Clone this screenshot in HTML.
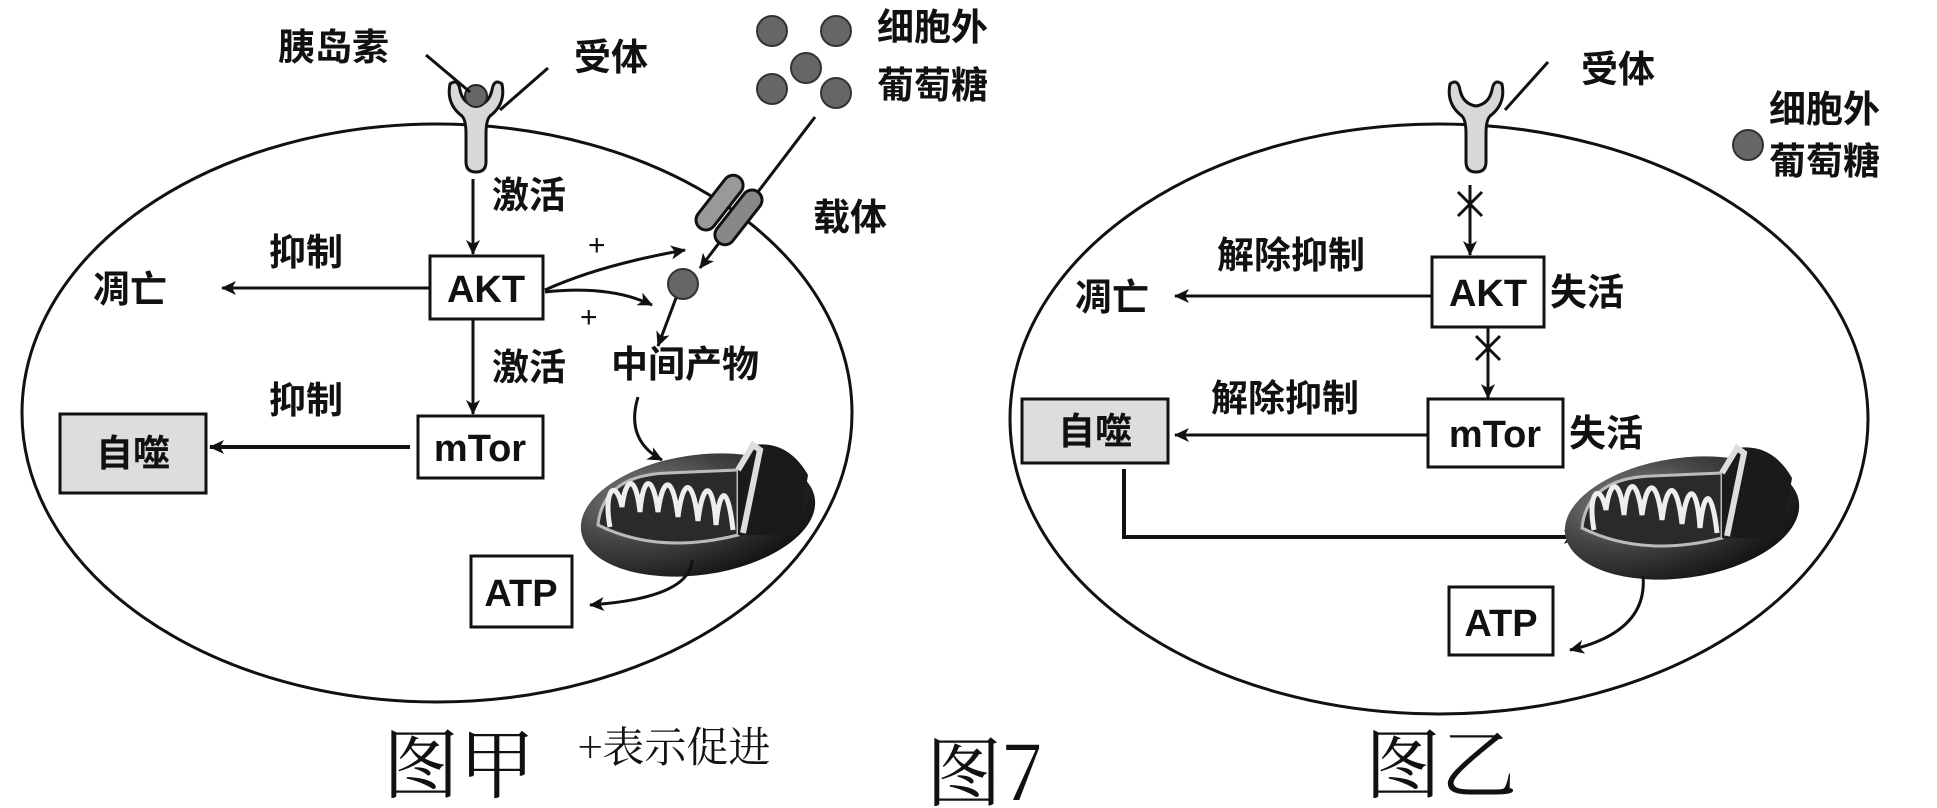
<!DOCTYPE html>
<html><head><meta charset="utf-8"><style>
html,body{margin:0;padding:0;background:#fff;}
svg{display:block;}
text{font-family:"Liberation Sans","Noto Sans CJK SC",sans-serif;fill:#111;}
.cn{font-size:37px;font-weight:bold;font-family:"Noto Sans CJK SC","WenQuanYi Zen Hei",sans-serif;}
.bx{font-size:38px;font-weight:bold;font-family:"Liberation Sans",sans-serif;}
.big{font-size:76px;font-family:"Noto Serif CJK SC","Liberation Serif",serif;}
</style></head><body>
<svg width="1937" height="808" viewBox="0 0 1937 808" xmlns="http://www.w3.org/2000/svg">
<defs>
<marker id="ar" markerWidth="16" markerHeight="14" refX="14" refY="7" orient="auto" markerUnits="userSpaceOnUse">
<path d="M0,0 L15,7 L0,14 L4,7 Z" fill="#111"/></marker>
<radialGradient id="mg" cx="0.3" cy="0.3" r="0.8"><stop offset="0" stop-color="#888"/><stop offset="0.45" stop-color="#444"/><stop offset="1" stop-color="#111"/></radialGradient>
<g id="mito">
<ellipse cx="0" cy="0" rx="118" ry="60" fill="url(#mg)" transform="rotate(-8)"/>
<path d="M-100,10 Q-95,-40 -30,-42 L40,-45 L40,20 Q-40,40 -100,10Z" fill="#2a2a2a" stroke="#bbb" stroke-width="3"/>
<path d="M-88,12 C-95,-25 -82,-38 -76,-8 C-72,-40 -62,-40 -58,-3 C-55,-40 -45,-42 -40,-3 C-35,-40 -25,-40 -20,2 C-15,-38 -5,-38 0,6 C5,-35 15,-35 18,10 C22,-30 30,-30 35,15" fill="none" stroke="#eee" stroke-width="5"/>
<path d="M40,-45 L55,-70 Q90,-75 110,-40 L100,20 L40,20Z" fill="#1a1a1a"/>
<path d="M40,-45 L55,-70 L62,-65 L45,18" fill="none" stroke="#ddd" stroke-width="6"/>
</g>
<g id="rec">
<path d="M-26,-38 Q-30,-18 -14,-6 Q-10,-2 -10,12 L-10,40 Q-10,50 0,50 Q10,50 10,40 L10,12 Q10,-2 14,-6 Q30,-18 26,-38 Q18,-44 16,-32 Q13,-18 0,-16 Q-13,-18 -16,-32 Q-18,-44 -26,-38Z" fill="#d8d8d8" stroke="#111" stroke-width="3"/>
</g>
</defs>

<!-- LEFT -->
<ellipse cx="437" cy="413" rx="415" ry="289" fill="none" stroke="#111" stroke-width="3"/>
<use href="#rec" x="476" y="122"/>
<circle cx="476" cy="96" r="11" fill="#666" stroke="#222" stroke-width="2"/>
<line x1="426" y1="55" x2="470" y2="92" stroke="#111" stroke-width="3"/>
<line x1="548" y1="68" x2="500" y2="110" stroke="#111" stroke-width="3"/>
<text class="cn" x="278" y="60">胰岛素</text>
<text class="cn" x="574" y="70">受体</text>
<g fill="#666" stroke="#333" stroke-width="2">
<circle cx="772" cy="31" r="15"/><circle cx="836" cy="31" r="15"/><circle cx="806" cy="68" r="15"/><circle cx="772" cy="89" r="15"/><circle cx="836" cy="93" r="15"/><circle cx="683" cy="284" r="15"/></g>
<text class="cn" x="877" y="40">细胞外</text>
<text class="cn" x="877" y="98">葡萄糖</text>
<line x1="815" y1="117" x2="700" y2="268" stroke="#111" stroke-width="3" marker-end="url(#ar)"/>
<g transform="translate(729,210) rotate(-52)">
<rect x="-32" y="-22" width="64" height="20" rx="10" fill="#999" stroke="#111" stroke-width="3"/>
<rect x="-32" y="2" width="64" height="20" rx="10" fill="#888" stroke="#111" stroke-width="3"/></g>
<text class="cn" x="813" y="230">载体</text>
<line x1="473" y1="179" x2="473" y2="254" stroke="#111" stroke-width="3" marker-end="url(#ar)"/>
<text class="cn" x="492" y="208">激活</text>
<rect x="430" y="256" width="113" height="63" fill="#fff" stroke="#111" stroke-width="3"/>
<text class="bx" x="486" y="302" text-anchor="middle">AKT</text>
<line x1="430" y1="288" x2="222" y2="288" stroke="#111" stroke-width="3" marker-end="url(#ar)"/>
<text class="cn" x="269" y="265">抑制</text>
<text class="cn" x="93" y="302">凋亡</text>
<path d="M545,290 Q600,265 685,250" fill="none" stroke="#111" stroke-width="3" marker-end="url(#ar)"/>
<path d="M545,292 Q610,285 652,305" fill="none" stroke="#111" stroke-width="3" marker-end="url(#ar)"/>
<text x="588" y="255" style="font-size:30px">+</text>
<text x="580" y="327" style="font-size:30px">+</text>
<line x1="676" y1="298" x2="658" y2="346" stroke="#111" stroke-width="3" marker-end="url(#ar)"/>
<text class="cn" x="611" y="377">中间产物</text>
<line x1="473" y1="319" x2="473" y2="414" stroke="#111" stroke-width="3" marker-end="url(#ar)"/>
<text class="cn" x="492" y="380">激活</text>
<rect x="418" y="416" width="125" height="62" fill="#fff" stroke="#111" stroke-width="3"/>
<text class="bx" x="480" y="461" text-anchor="middle">mTor</text>
<line x1="410" y1="447" x2="210" y2="447" stroke="#111" stroke-width="4" marker-end="url(#ar)"/>
<text class="cn" x="269" y="413">抑制</text>
<rect x="60" y="414" width="146" height="79" fill="#ddd" stroke="#111" stroke-width="3"/>
<text class="cn" x="133" y="466" text-anchor="middle">自噬</text>
<path d="M638,397 Q625,440 662,460" fill="none" stroke="#111" stroke-width="3" marker-end="url(#ar)"/>
<use href="#mito" x="698" y="515"/>
<rect x="471" y="556" width="101" height="71" fill="#fff" stroke="#111" stroke-width="3"/>
<text class="bx" x="521" y="606" text-anchor="middle">ATP</text>
<path d="M692,560 Q690,598 590,605" fill="none" stroke="#111" stroke-width="3" marker-end="url(#ar)"/>
<text class="big" x="383" y="792">图甲</text>
<text x="578" y="762" style="font-size:42px;font-family:'Noto Serif CJK SC','Liberation Serif',serif">+表示促进</text>
<text class="big" x="926" y="800">图7</text>

<!-- RIGHT -->
<ellipse cx="1439" cy="419" rx="429" ry="295" fill="none" stroke="#111" stroke-width="3"/>
<use href="#rec" x="1476" y="122"/>
<line x1="1548" y1="62" x2="1505" y2="110" stroke="#111" stroke-width="3"/>
<text class="cn" x="1581" y="82">受体</text>
<circle cx="1748" cy="145" r="15" fill="#666" stroke="#333" stroke-width="2"/>
<text class="cn" x="1769" y="122">细胞外</text>
<text class="cn" x="1769" y="174">葡萄糖</text>
<line x1="1470" y1="185" x2="1470" y2="255" stroke="#111" stroke-width="3" marker-end="url(#ar)"/>
<path d="M1458,192 L1482,216 M1482,192 L1458,216" stroke="#111" stroke-width="3"/>
<rect x="1432" y="257" width="112" height="70" fill="#fff" stroke="#111" stroke-width="3"/>
<text class="bx" x="1488" y="306" text-anchor="middle">AKT</text>
<text class="cn" x="1550" y="305">失活</text>
<text class="cn" x="1217" y="268">解除抑制</text>
<line x1="1432" y1="296" x2="1175" y2="296" stroke="#111" stroke-width="3" marker-end="url(#ar)"/>
<text class="cn" x="1075" y="310">凋亡</text>
<line x1="1488" y1="327" x2="1488" y2="398" stroke="#111" stroke-width="3" marker-end="url(#ar)"/>
<path d="M1476,336 L1500,360 M1500,336 L1476,360" stroke="#111" stroke-width="3"/>
<rect x="1428" y="399" width="135" height="68" fill="#fff" stroke="#111" stroke-width="3"/>
<text class="bx" x="1495" y="447" text-anchor="middle">mTor</text>
<text class="cn" x="1569" y="446">失活</text>
<text class="cn" x="1211" y="411">解除抑制</text>
<line x1="1428" y1="435" x2="1175" y2="435" stroke="#111" stroke-width="3" marker-end="url(#ar)"/>
<rect x="1022" y="399" width="146" height="64" fill="#ddd" stroke="#111" stroke-width="3"/>
<text class="cn" x="1095" y="444" text-anchor="middle">自噬</text>
<polyline points="1124,469 1124,537 1578,537" fill="none" stroke="#111" stroke-width="4" marker-end="url(#ar)"/>
<use href="#mito" x="1682" y="518"/>
<rect x="1449" y="587" width="104" height="68" fill="#fff" stroke="#111" stroke-width="3"/>
<text class="bx" x="1501" y="636" text-anchor="middle">ATP</text>
<path d="M1643,576 Q1648,632 1570,650" fill="none" stroke="#111" stroke-width="3" marker-end="url(#ar)"/>
<text class="big" x="1365" y="792">图乙</text>
</svg>
</body></html>
